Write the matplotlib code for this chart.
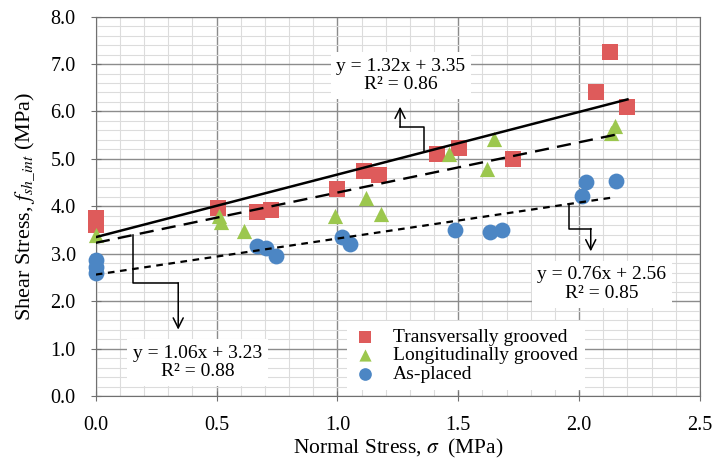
import matplotlib
matplotlib.use("Agg")
import matplotlib.pyplot as plt
import numpy as np
from matplotlib.ticker import MultipleLocator, FormatStrFormatter

plt.rcParams['font.family'] = ['Liberation Serif', 'DejaVu Serif']
plt.rcParams['mathtext.fontset'] = 'stix'

# Data
trans_x = [0.0, 0.0, 0.506, 0.665, 0.723, 0.997, 1.11, 1.17, 1.413, 1.503, 1.728, 2.069, 2.128, 2.20]
trans_y = [3.75, 3.60, 3.97, 3.87, 3.92, 4.37, 4.74, 4.65, 5.10, 5.22, 4.99, 6.40, 7.25, 6.10]
long_x = [0.0, 0.51, 0.52, 0.613, 0.99, 1.12, 1.18, 1.463, 1.62, 1.648, 2.13, 2.15]
long_y = [3.39, 3.79, 3.66, 3.48, 3.80, 4.18, 3.83, 5.11, 4.78, 5.42, 5.55, 5.70]
asp_x = [0.0, 0.0, 0.0, 0.665, 0.705, 0.746, 1.02, 1.05, 1.487, 1.63, 1.68, 2.01, 2.03, 2.153]
asp_y = [2.87, 2.72, 2.60, 3.16, 3.12, 2.96, 3.36, 3.21, 3.50, 3.46, 3.50, 4.22, 4.52, 4.53]

fits = {
    'trans': (1.32, 3.35, 0.0, 2.20),
    'long': (1.06, 3.23, 0.0, 2.15),
    'asp': (0.76, 2.56, 0.0, 2.15),
}
labels = ['Transversally grooved', 'Longitudinally grooved', 'As-placed']
c_red, c_green, c_blue = '#DE5B5B', '#9CC74E', '#4C86C4'

fig = plt.figure(figsize=(7.15, 4.61), dpi=100)
ax = fig.add_axes([0.134, 0.141, 0.845, 0.823])
ax.set_xlim(0, 2.5)
ax.set_ylim(0, 8)

ax.xaxis.set_major_locator(MultipleLocator(0.5))
ax.xaxis.set_minor_locator(MultipleLocator(0.1))
ax.yaxis.set_major_locator(MultipleLocator(1.0))
ax.yaxis.set_minor_locator(MultipleLocator(0.2))
ax.xaxis.set_major_formatter(FormatStrFormatter('%.1f'))
ax.yaxis.set_major_formatter(FormatStrFormatter('%.1f'))
ax.grid(which='major', color='#8c8c8c', lw=1.0, zorder=0)
ax.grid(which='minor', color='#dcdcdc', lw=0.8, zorder=0)
ax.set_axisbelow(True)
for s in ax.spines.values():
    s.set_color('#707070')
ax.tick_params(which='major', direction='inout', length=7, color='#707070', labelsize=14.5)
ax.tick_params(axis='x', which='major', pad=11)
ax.tick_params(axis='y', which='major', pad=11)
ax.tick_params(which='minor', length=0)

# trendlines
styles = {'trans': dict(ls='-', lw=1.8), 'long': dict(ls=(0, (6, 3.5)), lw=1.7), 'asp': dict(ls=(0, (3, 2.5)), lw=1.6)}
for k, (m, b, x0, x1) in fits.items():
    xx = np.array([x0, x1])
    ax.plot(xx, m * xx + b, color='black', zorder=4, **styles[k])

ax.scatter(trans_x, trans_y, marker='s', s=120, color=c_red, zorder=3, label=labels[0], linewidths=0, clip_on=False)
ax.scatter(long_x, long_y, marker='^', s=120, color=c_green, zorder=3, label=labels[1], linewidths=0, clip_on=False)
ax.scatter(asp_x, asp_y, marker='o', s=130, color=c_blue, zorder=3, label=labels[2], linewidths=0, clip_on=False)

# annotations
def elbow(path, text, text_xy):
    xs = [p[0] for p in path[:-1]]
    ys = [p[1] for p in path[:-1]]
    ax.plot(xs, ys, color='black', lw=1.1, zorder=5)
    ax.annotate('', xy=path[-1], xytext=path[-2],
                arrowprops=dict(arrowstyle='->', color='black', lw=1.1, mutation_scale=18,
                                shrinkA=0, shrinkB=0), zorder=5)
    ax.text(text_xy[0], text_xy[1], text, ha='center', va='center', fontsize=14,
            linespacing=1.1, zorder=6, multialignment='center',
            bbox=dict(boxstyle='square,pad=0.3', fc='white', ec='none'))

elbow([(1.356, 5.14), (1.356, 5.67), (1.259, 5.67), (1.259, 6.10)],
      'y = 1.32x + 3.35\nR\u00b2 = 0.86', (1.263, 6.76))
elbow([(0.155, 3.39), (0.155, 2.385), (0.341, 2.385), (0.341, 1.40)],
      'y = 1.06x + 3.23\nR\u00b2 = 0.88', (0.422, 0.70))
elbow([(1.956, 4.04), (1.956, 3.53), (2.048, 3.53), (2.048, 3.05)],
      'y = 0.76x + 2.56\nR\u00b2 = 0.85', (2.094, 2.36))

leg = ax.legend(loc='upper left', bbox_to_anchor=(0.40, 0.222), frameon=True, fancybox=False,
                fontsize=14, handletextpad=0.9, borderpad=0.35, labelspacing=0.05,
                handlelength=1.1, markerscale=0.8)
leg.get_frame().set_facecolor('white')
leg.get_frame().set_edgecolor('none')
leg.get_frame().set_alpha(1)
leg.set_zorder(7)

ax.set_xlabel(r'Normal Stress, $\sigma$  (MPa)', fontsize=15.5, labelpad=1)
ax.set_ylabel(r'Shear Stress, $f_{sh\_int}$ (MPa)', fontsize=16, labelpad=10)

fig.savefig('out.png', dpi=100)
